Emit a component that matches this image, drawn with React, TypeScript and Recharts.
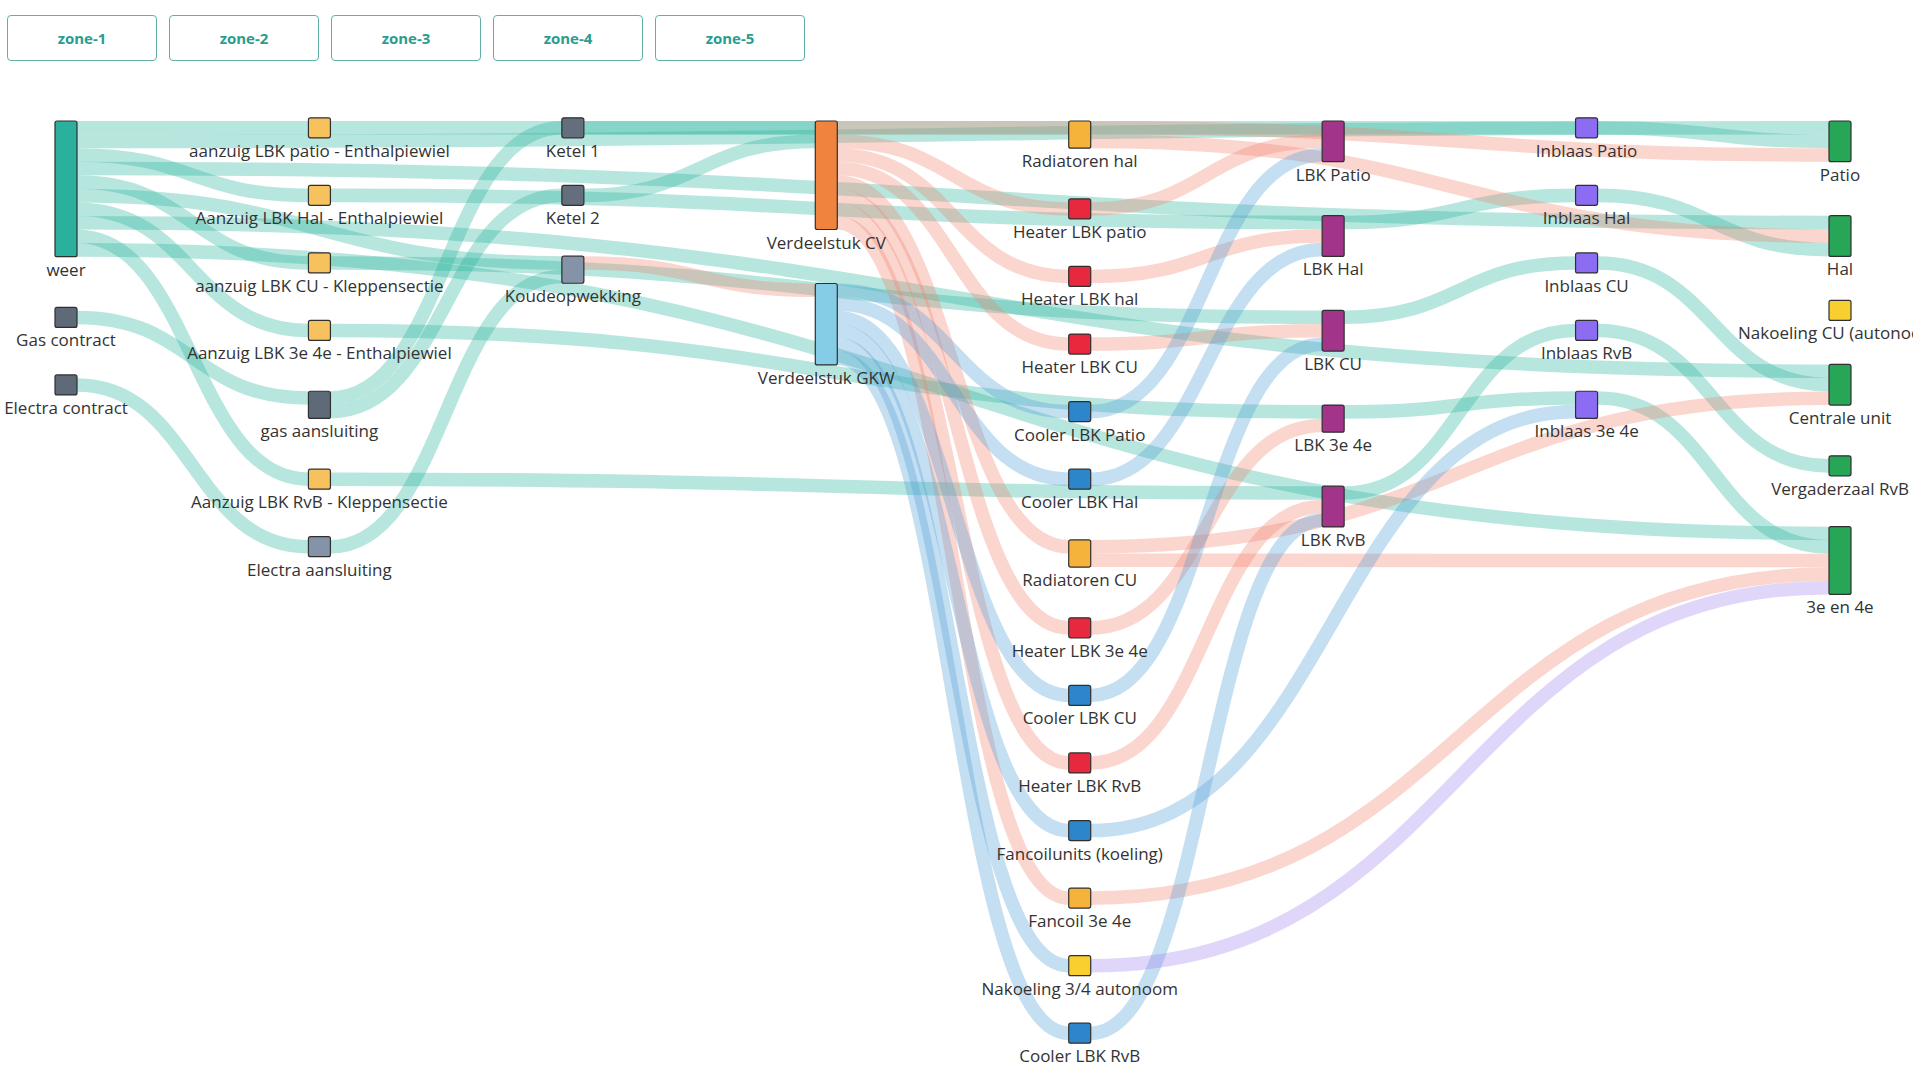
import React from 'react';
import { Sankey } from 'recharts';

// knopen in volgorde per kolom (van boven naar beneden)
const nodeNames = [
  'weer', 'Gas contract', 'Electra contract',
  'aanzuig LBK patio - Enthalpiewiel', 'Aanzuig LBK Hal - Enthalpiewiel', 'aanzuig LBK CU - Kleppensectie',
  'Aanzuig LBK 3e 4e - Enthalpiewiel', 'gas aansluiting', 'Aanzuig LBK RvB - Kleppensectie', 'Electra aansluiting',
  'Ketel 1', 'Ketel 2', 'Koudeopwekking',
  'Verdeelstuk CV', 'Verdeelstuk GKW',
  'Radiatoren hal', 'Heater LBK patio', 'Heater LBK hal', 'Heater LBK CU', 'Cooler LBK Patio', 'Cooler LBK Hal',
  'Radiatoren CU', 'Heater LBK 3e 4e', 'Cooler LBK CU', 'Heater LBK RvB', 'Fancoilunits (koeling)', 'Fancoil 3e 4e',
  'Nakoeling 3/4 autonoom', 'Cooler LBK RvB',
  'LBK Patio', 'LBK Hal', 'LBK CU', 'LBK 3e 4e', 'LBK RvB',
  'Inblaas Patio', 'Inblaas Hal', 'Inblaas CU', 'Inblaas RvB', 'Inblaas 3e 4e',
  'Patio', 'Hal', 'Nakoeling CU (autonoom)', 'Centrale unit', 'Vergaderzaal RvB', '3e en 4e',
];

const nodeKinds = [
  'weer', 'net', 'net',
  'aanzuig', 'aanzuig', 'aanzuig', 'aanzuig', 'net', 'aanzuig', 'netLicht',
  'ketel', 'ketel', 'netLicht',
  'cv', 'gkw',
  'radiator', 'heater', 'heater', 'heater', 'cooler', 'cooler',
  'radiator', 'heater', 'cooler', 'heater', 'cooler', 'radiator', 'nakoeling', 'cooler',
  'lbk', 'lbk', 'lbk', 'lbk', 'lbk',
  'inblaas', 'inblaas', 'inblaas', 'inblaas', 'inblaas',
  'ruimte', 'ruimte', 'nakoeling', 'ruimte', 'ruimte', 'ruimte',
];

// stromen: [bron, doel, waarde]
const luchtLinks: [string, string, number][] = [
  ['weer', 'aanzuig LBK patio - Enthalpiewiel', 1],
  ['weer', 'Aanzuig LBK Hal - Enthalpiewiel', 1],
  ['weer', 'aanzuig LBK CU - Kleppensectie', 1],
  ['weer', 'Aanzuig LBK 3e 4e - Enthalpiewiel', 1],
  ['weer', 'Aanzuig LBK RvB - Kleppensectie', 1],
  ['weer', 'Koudeopwekking', 1],
  ['weer', 'Patio', 1],
  ['weer', 'Hal', 1],
  ['weer', 'Centrale unit', 1],
  ['weer', '3e en 4e', 1],
  ['Gas contract', 'gas aansluiting', 1],
  ['gas aansluiting', 'Ketel 1', 1],
  ['gas aansluiting', 'Ketel 2', 1],
  ['Ketel 1', 'Verdeelstuk CV', 1],
  ['Ketel 2', 'Verdeelstuk CV', 1],
  ['Electra contract', 'Electra aansluiting', 1],
  ['Electra aansluiting', 'Koudeopwekking', 1],
  ['aanzuig LBK patio - Enthalpiewiel', 'LBK Patio', 1],
  ['Aanzuig LBK Hal - Enthalpiewiel', 'LBK Hal', 1],
  ['aanzuig LBK CU - Kleppensectie', 'LBK CU', 1],
  ['Aanzuig LBK 3e 4e - Enthalpiewiel', 'LBK 3e 4e', 1],
  ['Aanzuig LBK RvB - Kleppensectie', 'LBK RvB', 1],
  ['LBK Patio', 'Inblaas Patio', 1],
  ['LBK Hal', 'Inblaas Hal', 1],
  ['LBK CU', 'Inblaas CU', 1],
  ['LBK 3e 4e', 'Inblaas 3e 4e', 1],
  ['LBK RvB', 'Inblaas RvB', 1],
  ['Inblaas Patio', 'Patio', 1],
  ['Inblaas Hal', 'Hal', 1],
  ['Inblaas CU', 'Centrale unit', 1],
  ['Inblaas RvB', 'Vergaderzaal RvB', 1],
  ['Inblaas 3e 4e', '3e en 4e', 1],
];

const warmteLinks: [string, string, number][] = [
  ['Koudeopwekking', 'Verdeelstuk GKW', 1],
  ['Verdeelstuk CV', 'Heater LBK patio', 1],
  ['Verdeelstuk CV', 'Radiatoren hal', 1],
  ['Verdeelstuk CV', 'Heater LBK hal', 1],
  ['Verdeelstuk CV', 'Heater LBK CU', 1],
  ['Verdeelstuk CV', 'Radiatoren CU', 1],
  ['Verdeelstuk CV', 'Heater LBK 3e 4e', 1],
  ['Verdeelstuk CV', 'Heater LBK RvB', 1],
  ['Verdeelstuk CV', 'Fancoil 3e 4e', 1],
  ['Heater LBK patio', 'LBK Patio', 1],
  ['Radiatoren hal', 'Patio', 1],
  ['Radiatoren hal', 'Hal', 1],
  ['Heater LBK hal', 'LBK Hal', 1],
  ['Heater LBK CU', 'LBK CU', 1],
  ['Radiatoren CU', 'Centrale unit', 1],
  ['Radiatoren CU', '3e en 4e', 1],
  ['Heater LBK 3e 4e', 'LBK 3e 4e', 1],
  ['Heater LBK RvB', 'LBK RvB', 1],
  ['Fancoil 3e 4e', '3e en 4e', 1],
];

const koudeLinks: [string, string, number][] = [
  ['Verdeelstuk GKW', 'Cooler LBK Patio', 1],
  ['Verdeelstuk GKW', 'Cooler LBK Hal', 1],
  ['Verdeelstuk GKW', 'Cooler LBK CU', 1],
  ['Verdeelstuk GKW', 'Fancoilunits (koeling)', 1],
  ['Verdeelstuk GKW', 'Nakoeling 3/4 autonoom', 1],
  ['Verdeelstuk GKW', 'Cooler LBK RvB', 1],
  ['Cooler LBK Patio', 'LBK Patio', 1],
  ['Cooler LBK Hal', 'LBK Hal', 1],
  ['Cooler LBK CU', 'LBK CU', 1],
  ['Cooler LBK RvB', 'LBK RvB', 1],
  ['Fancoilunits (koeling)', 'Inblaas 3e 4e', 1],
];

const nakoelingLinks: [string, string, number][] = [
  ['Nakoeling 3/4 autonoom', '3e en 4e', 1],
];

const zones = ['zone-1', 'zone-2', 'zone-3', 'zone-4', 'zone-5'];

const NODE_COLORS: Record<string, string> = {
  weer: '#2bb09e',
  net: '#5f6a79',
  ketel: '#646e7c',
  netLicht: '#8593a8',
  aanzuig: '#f6c25e',
  cv: '#f0843e',
  gkw: '#85cde6',
  heater: '#e8283d',
  radiator: '#f5b33c',
  cooler: '#2d86c9',
  nakoeling: '#f9cf2f',
  lbk: '#a2358a',
  inblaas: '#8b6cf2',
  ruimte: '#27a658',
};

const FLOW_COLORS: Record<string, string> = {
  lucht: '#25b39c',
  warmte: '#f4826d',
  koude: '#4f9dd8',
  nakoeling: '#9e82f0',
};

const nodes = nodeNames.map((name) => ({ name }));
const idx = (n: string) => nodeNames.indexOf(n);
const flowGroups: [string, [string, string, number][]][] = [
  ['lucht', luchtLinks],
  ['warmte', warmteLinks],
  ['koude', koudeLinks],
  ['nakoeling', nakoelingLinks],
];
const links = flowGroups.flatMap(([flow, list]) =>
  list.map(([s, t, v]) => ({ source: idx(s), target: idx(t), value: v, flow }))
);

const FONT = "'Open Sans', 'Noto Sans', sans-serif";

const SankeyNode = (props: any) => {
  const { x, y, width, height, index } = props;
  const h = Math.max(height, 20);
  const top = y + height / 2 - h / 2;
  return (
    <g>
      <rect
        x={x}
        y={top}
        width={width}
        height={h}
        rx={2}
        fill={NODE_COLORS[nodeKinds[index]]}
        stroke="#2f2f2f"
        strokeWidth={1.2}
      />
      <text
        x={x + width / 2}
        y={top + h + 19}
        textAnchor="middle"
        fontSize={17}
        fontFamily={FONT}
        fill="#333"
      >
        {nodeNames[index]}
      </text>
    </g>
  );
};

const SankeyLink = (props: any) => {
  const { sourceX, targetX, sourceY, targetY, sourceControlX, targetControlX, linkWidth, index } = props;
  const color = FLOW_COLORS[links[index].flow];
  return (
    <path
      d={`M${sourceX},${sourceY}C${sourceControlX},${sourceY} ${targetControlX},${targetY} ${targetX},${targetY}`}
      fill="none"
      stroke={color}
      strokeWidth={linkWidth}
      strokeOpacity={0.33}
    />
  );
};

export default function App() {
  return (
    <div style={{ position: 'absolute', left: 0, top: 0, width: 1913, height: 1080, background: '#fff', fontFamily: FONT }}>
      <div style={{ position: 'absolute', left: 7, top: 15, display: 'flex', gap: 12, zIndex: 2 }}>
        {zones.map((z) => (
          <div
            key={z}
            style={{
              width: 148,
              height: 44,
              border: '1.5px solid #5fb0a6',
              borderRadius: 4,
              display: 'flex',
              alignItems: 'center',
              justifyContent: 'center',
              color: '#2a9d8f',
              fontWeight: 700,
              fontSize: 15,
              background: '#fff',
            }}
          >
            {z}
          </div>
        ))}
      </div>
      <Sankey
        width={1913}
        height={1080}
        data={{ nodes, links }}
        nodeWidth={22}
        nodePadding={54}
        iterations={0}
        linkCurvature={0.5}
        margin={{ left: 55, right: 62, top: 121, bottom: 40 }}
        node={<SankeyNode />}
        link={<SankeyLink />}
      />
    </div>
  );
}
